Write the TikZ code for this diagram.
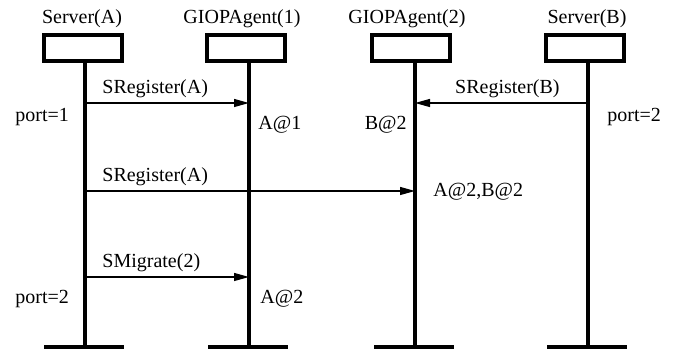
\documentclass[tikz,border=0pt]{standalone}
\usepackage{fontspec}
\setmainfont{Liberation Serif}
\usetikzlibrary{arrows.meta}
\begin{document}
\begin{tikzpicture}[x=0.5pt,y=-0.5pt,
  objbox/.style={draw,line width=2pt,minimum width=39pt,minimum height=13pt,inner sep=0pt},
  title/.style={anchor=base,inner sep=0pt,font=\fontsize{10}{12}\selectfont},
  lbl/.style={inner sep=0pt,font=\fontsize{10}{12}\selectfont},
  lifeline/.style={line width=2pt},
  endbar/.style={line width=2pt},
  msg/.style={line width=0.6pt,-{Triangle[length=7.5pt,width=4pt]}}]
\useasboundingbox (0,0) rectangle (674,351);
% titles
\node[title] (tA) at (82,24) {Server(A)};
\node[title] (t1) at (242,24) {GIOPAgent(1)};
\node[title] (t2) at (407,24) {GIOPAgent(2)};
\node[title] (tB) at (587,24) {Server(B)};
% boxes
\node[objbox] (bA) at (83,48) {};
\node[objbox] (b1) at (246,48) {};
\node[objbox] (b2) at (411,48) {};
\node[objbox] (bB) at (585,48) {};
% lifeline coordinates
\coordinate (sA) at (85,61);
\coordinate (s1) at (249,61);
\coordinate (s2) at (415,61);
\coordinate (sB) at (588,61);
\coordinate (eA) at (85,347);
\coordinate (e1) at (249,347);
\coordinate (e2) at (415,347);
\coordinate (eB) at (588,347);
\draw[lifeline] (sA) -- (eA);
\draw[lifeline] (s1) -- (e1);
\draw[lifeline] (s2) -- (e2);
\draw[lifeline] (sB) -- (eB);
\draw[endbar] (eA) ++(-41,0) -- ++(80,0);
\draw[endbar] (e1) ++(-41,0) -- ++(80,0);
\draw[endbar] (e2) ++(-41,0) -- ++(80,0);
\draw[endbar] (eB) ++(-41,0) -- ++(80,0);
% messages
\coordinate (m1s) at (85,103);  \coordinate (m1e) at (249,103);
\coordinate (m2s) at (588,103); \coordinate (m2e) at (415,103);
\coordinate (m3s) at (85,191);  \coordinate (m3e) at (415,191);
\coordinate (m4s) at (85,277);  \coordinate (m4e) at (249,277);
\draw[msg] (m1s) -- (m1e);
\draw[msg] (m2s) -- (m2e);
\draw[msg] (m3s) -- (m3e);
\draw[msg] (m4s) -- (m4e);
\node[lbl,anchor=base west] (l1) at (102,94) {SRegister(A)};
\node[lbl,anchor=base east] (l2) at (560,94) {SRegister(B)};
\node[lbl,anchor=base west] (l3) at (102,182) {SRegister(A)};
\node[lbl,anchor=base west] (l4) at (102,268) {SMigrate(2)};
% states
\node[lbl,anchor=base west] (p1) at (15,122) {port=1};
\node[lbl,anchor=base west] (a1) at (258,130) {A@1};
\node[lbl,anchor=base east] (b2s) at (407,130) {B@2};
\node[lbl,anchor=base west] (p2) at (607,122) {port=2};
\node[lbl,anchor=base west] (ab) at (433,197) {A@2,B@2};
\node[lbl,anchor=base west] (p3) at (15,304) {port=2};
\node[lbl,anchor=base west] (a2) at (260,304) {A@2};
\end{tikzpicture}
\end{document}
